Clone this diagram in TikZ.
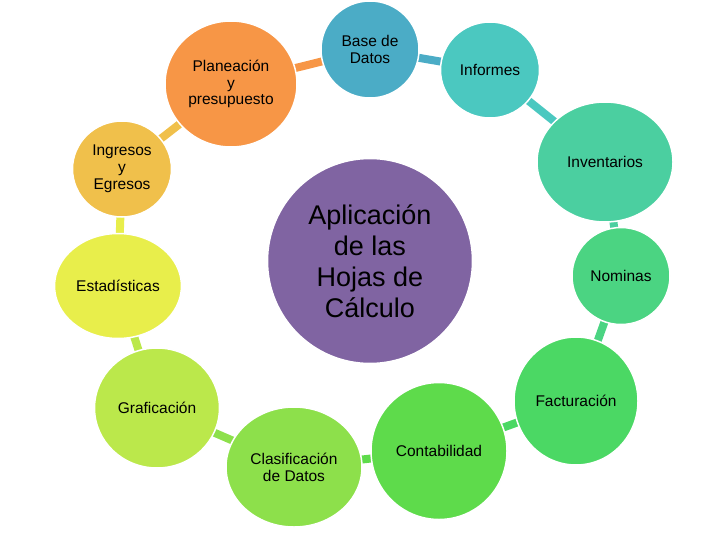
\documentclass[tikz,border=0pt]{standalone}
\usepackage{fontspec}
\setmainfont{Liberation Sans}
\usetikzlibrary{shapes.geometric,backgrounds}
\definecolor{cCenter}{RGB}{128,100,162}
\definecolor{cBase}{RGB}{75,172,198}
\definecolor{cInf}{RGB}{75,200,192}
\definecolor{cInv}{RGB}{75,207,160}
\definecolor{cNom}{RGB}{75,212,130}
\definecolor{cFac}{RGB}{75,216,100}
\definecolor{cCon}{RGB}{94,219,75}
\definecolor{cCla}{RGB}{141,224,75}
\definecolor{cGra}{RGB}{187,232,75}
\definecolor{cEst}{RGB}{232,238,75}
\definecolor{cIng}{RGB}{240,192,75}
\definecolor{cPla}{RGB}{247,150,70}
\tikzset{
  bubble/.style={ellipse, draw=white, line width=1.5pt, inner sep=0pt, align=center,
    text=black, font=\fontsize{15.5}{16.8}\selectfont},
  hub/.style={circle, draw=white, line width=1.5pt, inner sep=0pt, align=center,
    text=black, font=\fontsize{27}{31}\selectfont},
  conn/.style={line width=8pt}
}
\begin{document}
\begin{tikzpicture}[x=1pt,y=-1pt]
\useasboundingbox (0,0) rectangle (728,546);
\node[hub, fill=cCenter, minimum size=205pt] (hub) at (370,261) {Aplicación\\de las\\Hojas de\\Cálculo};
\node[bubble, fill=cBase, minimum width=98pt, minimum height=97pt] (base) at (370,49.5) {Base de\\Datos};
\node[bubble, fill=cInf, minimum width=99pt, minimum height=96pt] (inf) at (490,70) {Informes};
\node[bubble, fill=cInv, minimum width=136pt, minimum height=120pt] (inv) at (605,162) {Inventarios};
\node[bubble, fill=cNom, minimum width=98pt, minimum height=97pt] (nom) at (621,276) {Nominas};
\node[bubble, fill=cFac, minimum width=124pt, minimum height=128pt] (fac) at (576,401) {Facturación};
\node[bubble, fill=cCon, minimum width=136pt, minimum height=137pt] (con) at (439,451) {Contabilidad};
\node[bubble, fill=cCla, minimum width=136pt, minimum height=120pt] (cla) at (294,467) {Clasificación\\de Datos};
\node[bubble, fill=cGra, minimum width=125pt, minimum height=120pt] (gra) at (157,408) {Graficación};
\node[bubble, fill=cEst, minimum width=127pt, minimum height=105pt] (est) at (118,286) {Estadísticas};
\node[bubble, fill=cIng, minimum width=99pt, minimum height=96pt] (ing) at (122,169) {Ingresos\\y\\Egresos};
\node[bubble, fill=cPla, minimum width=132pt, minimum height=126pt] (pla) at (231,84) {Planeación\\y\\presupuesto};
\begin{scope}[on background layer]
\draw[conn, cPla] (pla.center) -- (base.center);
\draw[conn, cBase] (base.center) -- (inf.center);
\draw[conn, cInf] (inf.center) -- (inv.center);
\draw[conn, cInv] (inv.center) -- (nom.center);
\draw[conn, cNom] (nom.center) -- (fac.center);
\draw[conn, cFac] (fac.center) -- (con.center);
\draw[conn, cCon] (con.center) -- (cla.center);
\draw[conn, cCla] (cla.center) -- (gra.center);
\draw[conn, cGra] (gra.center) -- (est.center);
\draw[conn, cEst] (est.center) -- (ing.center);
\draw[conn, cIng] (ing.center) -- (pla.center);
\end{scope}
\end{tikzpicture}
\end{document}
